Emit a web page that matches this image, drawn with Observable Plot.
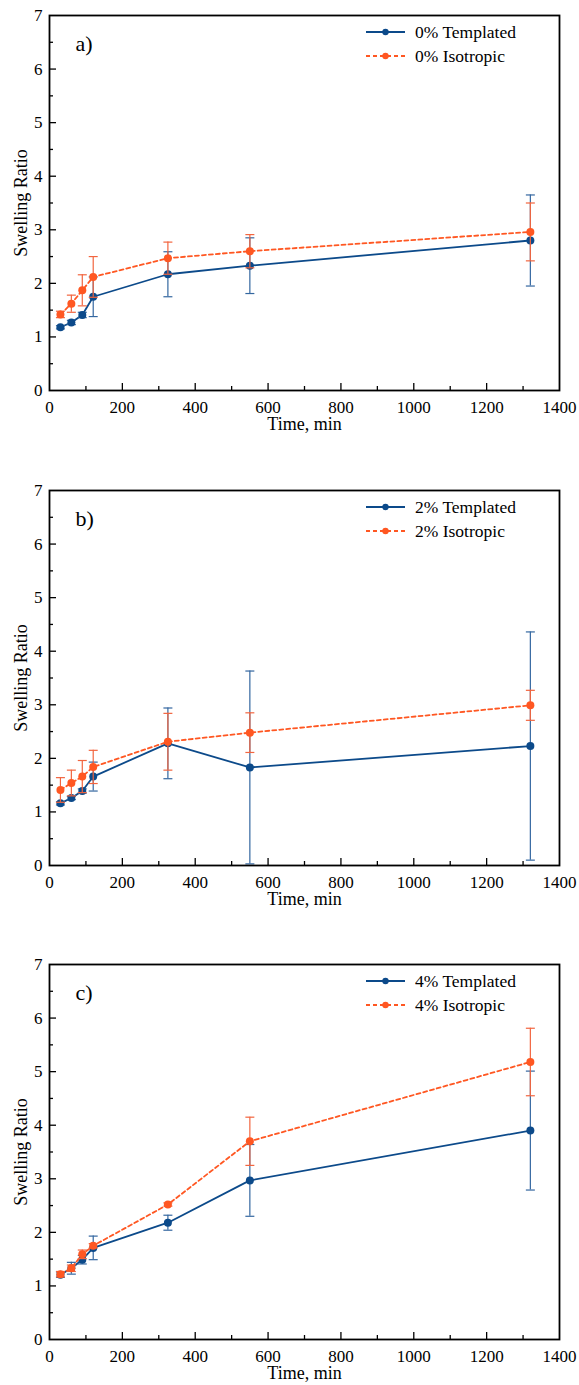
<!DOCTYPE html>
<html><head><meta charset="utf-8">
<script src="https://cdn.jsdelivr.net/npm/d3@7"></script>
<script src="https://cdn.jsdelivr.net/npm/@observablehq/plot@0.6"></script>
<style>
body{margin:0;background:#fff;}
#charts svg{display:block;}
#charts svg text{font-family:"Liberation Serif","DejaVu Serif",serif;}
</style></head><body><div id="charts"></div>
<script>
// ---- data ----
const time = [30, 60, 90, 120, 325, 550, 1320];
const panelLabels = ["a)", "b)", "c)"];
const concentrations = ["0%", "2%", "4%"];
const seriesNames = ["Templated", "Isotropic"];
const templatedMean = [
  [1.18, 1.27, 1.41, 1.75, 2.17, 2.33, 2.80],
  [1.16, 1.26, 1.39, 1.66, 2.28, 1.83, 2.23],
  [1.21, 1.33, 1.49, 1.71, 2.18, 2.97, 3.90]
];
const templatedErr = [
  [0.03, 0.04, 0.05, 0.37, 0.42, 0.52, 0.85],
  [0.03, 0.03, 0.04, 0.27, 0.66, 1.80, 2.13],
  [0.05, 0.11, 0.08, 0.22, 0.14, 0.67, 1.11]
];
const isotropicMean = [
  [1.42, 1.62, 1.87, 2.12, 2.47, 2.60, 2.96],
  [1.41, 1.54, 1.66, 1.84, 2.31, 2.48, 2.99],
  [1.22, 1.33, 1.59, 1.75, 2.52, 3.70, 5.18]
];
const isotropicErr = [
  [0.06, 0.16, 0.29, 0.38, 0.30, 0.31, 0.54],
  [0.23, 0.24, 0.30, 0.31, 0.53, 0.37, 0.28],
  [0.05, 0.06, 0.08, 0.04, 0.03, 0.45, 0.63]
];
const xTickLabels = [0, 200, 400, 600, 800, 1000, 1200, 1400];
const xMajorTicks = [200, 400, 600, 800, 1000, 1200];
const xMinorTicks = [100, 300, 500, 700, 900, 1100, 1300];
const yTickLabels = [0, 1, 2, 3, 4, 5, 6, 7];
const yMajorTicks = [1, 2, 3, 4, 5, 6];
const yMinorTicks = [0.5, 1.5, 2.5, 3.5, 4.5, 5.5, 6.5];
const xLabel = "Time, min";
const yLabel = "Swelling Ratio";

// ---- styles / layout ----
const W = 579;
const heights = [475, 475, 435];
const mTop = [15, 15, 14];
const mBottom = [85, 85, 46];
const mLeft = 49, mRight = 20;
const blue = "#0c4a8a", blueBar = "#3467a0";
const orange = "#ff5722", orangeBar = "#f2653f";
const font = "Liberation Serif";
const fmt = d => String(d);
const capSymbol = {draw(ctx) { ctx.moveTo(-4.5, 0); ctx.lineTo(4.5, 0); }};

function seriesMarks(rows, color, barColor, dash) {
  return [
    Plot.line(rows, {x: "t", y: "m", stroke: color, strokeWidth: 1.8, strokeDasharray: dash}),
    Plot.ruleX(rows, {x: "t", y1: d => d.m - d.e, y2: d => d.m + d.e, stroke: barColor, strokeWidth: 1.2}),
    Plot.dot(rows, {x: "t", y: d => d.m - d.e, symbol: capSymbol, fill: "none", stroke: barColor, strokeWidth: 1.2}),
    Plot.dot(rows, {x: "t", y: d => d.m + d.e, symbol: capSymbol, fill: "none", stroke: barColor, strokeWidth: 1.2}),
    Plot.dot(rows, {x: "t", y: "m", r: 4, fill: color, stroke: "none"})
  ];
}

const container = document.getElementById("charts");
for (let p = 0; p < 3; p++) {
  const H = heights[p];
  const plotH = H - mTop[p] - mBottom[p];
  const plotW = W - mLeft - mRight;
  const tRows = time.map((t, i) => ({t, m: templatedMean[p][i], e: templatedErr[p][i]}));
  const iRows = time.map((t, i) => ({t, m: isotropicMean[p][i], e: isotropicErr[p][i]}));
  const chart = Plot.plot({
    width: W, height: H,
    marginTop: mTop[p], marginBottom: mBottom[p], marginLeft: mLeft, marginRight: mRight,
    style: {fontFamily: font, fontSize: "17px", color: "black", background: "white"},
    x: {domain: [0, 1400]},
    y: {domain: [0, 7]},
    marks: [
      Plot.axisX({ticks: xTickLabels, tickFormat: fmt, tickSize: 0, tickPadding: 10, label: null, fontSize: 17, fontFamily: font}),
      Plot.axisY({ticks: yTickLabels, tickFormat: fmt, tickSize: 0, tickPadding: 7, label: null, fontSize: 17, fontFamily: font}),
      Plot.tickX(xMajorTicks, {x: d => d, insetTop: plotH - 7, stroke: "black", strokeWidth: 1.3}),
      Plot.tickX(xMinorTicks, {x: d => d, insetTop: plotH - 4, stroke: "black", strokeWidth: 1.3}),
      Plot.tickY(yMajorTicks, {y: d => d, insetRight: plotW - 7, stroke: "black", strokeWidth: 1.3}),
      Plot.tickY(yMinorTicks, {y: d => d, insetRight: plotW - 4, stroke: "black", strokeWidth: 1.3}),
      ...seriesMarks(tRows, blue, blueBar, null),
      ...seriesMarks(iRows, orange, orangeBar, "4,3"),
      Plot.frame({stroke: "black", strokeWidth: 1.8}),
      Plot.text([panelLabels[p]], {frameAnchor: "top-left", dx: 26, dy: 28, textAnchor: "start", lineAnchor: "middle", fontSize: 22, fontFamily: font}),
      Plot.text([xLabel], {frameAnchor: "bottom", dy: 27, textAnchor: "middle", lineAnchor: "top", fontSize: 18, fontFamily: font}),
      Plot.text([yLabel], {frameAnchor: "left", dx: -28, rotate: -90, textAnchor: "middle", lineAnchor: "middle", fontSize: 18, fontFamily: font})
    ]
  });
  // legend inside the frame (top-right)
  const svg = d3.select(chart);
  const lg = svg.append("g")
    .attr("transform", `translate(${W - mRight - 193},${mTop[p] + 17})`)
    .attr("font-family", font).attr("font-size", 17.5).attr("text-anchor", "start");
  const legendItems = [
    {name: `${concentrations[p]} ${seriesNames[0]}`, color: blue, dash: null},
    {name: `${concentrations[p]} ${seriesNames[1]}`, color: orange, dash: "4,3"}
  ];
  legendItems.forEach((it, k) => {
    const row = lg.append("g").attr("transform", `translate(0,${k * 24})`);
    row.append("line").attr("x1", 0).attr("x2", 39).attr("y1", 0).attr("y2", 0)
      .attr("stroke", it.color).attr("stroke-width", 1.8)
      .attr("stroke-dasharray", it.dash);
    row.append("circle").attr("cx", 19.5).attr("cy", 0).attr("r", 3.2).attr("fill", it.color);
    row.append("text").attr("x", 49).attr("y", 0).attr("dy", "0.32em")
      .attr("text-anchor", "start").attr("fill", "black").text(it.name);
  });
  container.appendChild(chart);
}
</script>
</body></html>
